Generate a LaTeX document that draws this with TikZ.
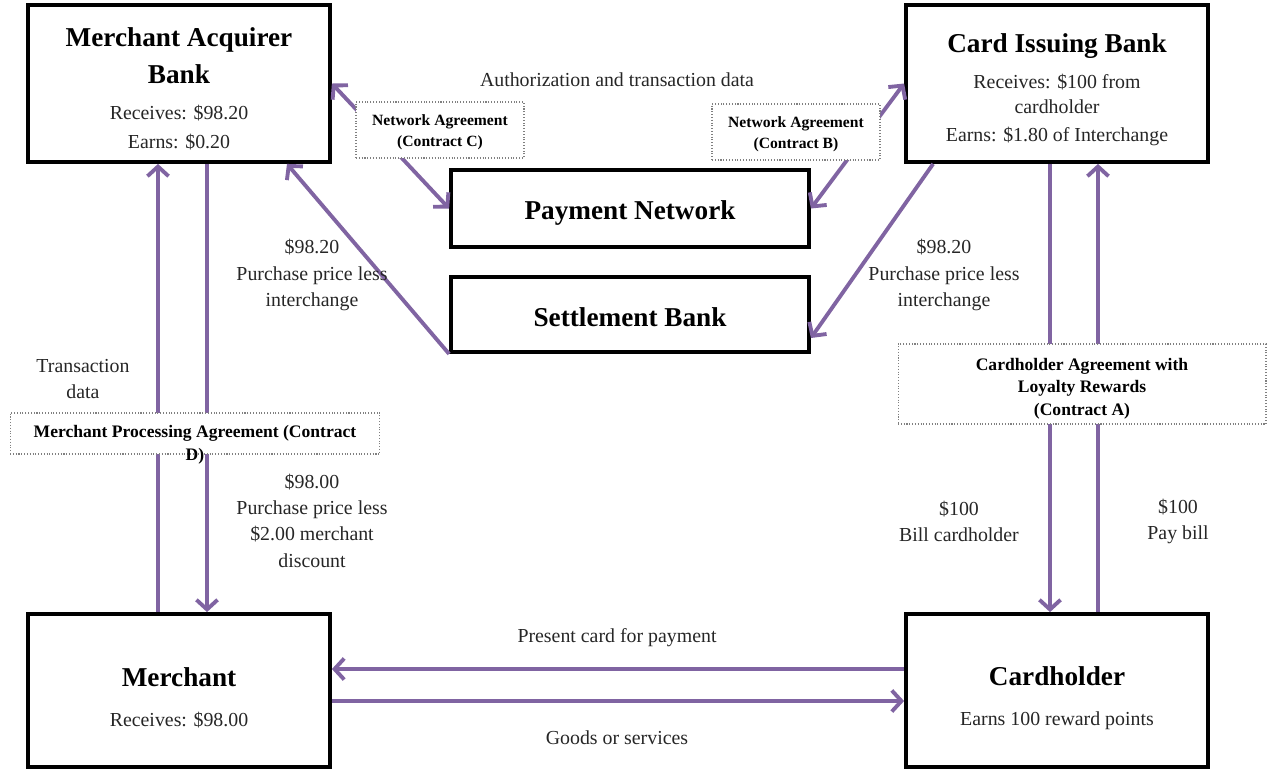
\documentclass[tikz,border=0pt]{standalone}
\usepackage{fontspec}
\setmainfont{Liberation Serif}
\usepackage{tikz}
\usetikzlibrary{arrows.meta,positioning}
\definecolor{flowpurple}{RGB}{128,100,162}

\newcommand{\boxtitle}{\fontsize{15.5}{21}\selectfont\bfseries}
\newcommand{\boxbody}{\fontsize{11.3}{15}\selectfont}
\newcommand{\contractbig}{\fontsize{10}{12.8}\selectfont\bfseries}
\newcommand{\contractsmall}{\fontsize{8.9}{11.9}\selectfont\bfseries}
\newcommand{\padtop}[1]{\rule{0pt}{#1}}

\tikzset{
    mainbox/.style={
        draw,
        line width=2.2pt,
        fill=white,
        align=center,
        font=\boxbody,
        text=black!85
    },
    contract/.style={
        draw=gray,
        densely dotted,
        line width=0.6pt,
        fill=white,
        align=center,
        inner sep=1pt
    },
    flow/.style={
        draw=flowpurple,
        line width=2.2pt,
        -{Straight Barb[length=5.5pt,width=12pt]}
    },
    flowboth/.style={
        flow,
        {Straight Barb[length=5.5pt,width=12pt]}-{Straight Barb[length=5.5pt,width=12pt]}
    },
    note/.style={
        align=center,
        font=\boxbody,
        text=black!85
    }
}

\begin{document}
\begin{tikzpicture}[x=0.02cm, y=-0.02cm]

\useasboundingbox (0,0) rectangle (1268,769);

% Bancs

\node[
    mainbox,
    minimum width=6.04cm,
    minimum height=3.14cm
] (acquirer) at (179,83.5)
    {{\boxtitle\color{black}\padtop{17pt}Merchant Acquirer}\\[6pt]
     {\boxtitle\color{black} Bank}\\[5.4pt]
     Receives: \$98.20\\[1.4pt]
     Earns: \$0.20};

\node[
    mainbox,
    minimum width=6.04cm,
    minimum height=3.14cm
] (issuer) at (1057,83.5)
    {{\boxtitle\color{black}\padtop{18pt}Card Issuing Bank}\\[5.4pt]
     Receives: \$100 from\\[-0.8pt]
     cardholder\\[1.4pt]
     Earns: \$1.80 of Interchange};

\node[
    mainbox,
    minimum width=7.16cm,
    minimum height=1.54cm
] (network) at (630,208.5)
    {{\boxtitle\color{black}\padtop{16pt}Payment Network}};

\node[
    mainbox,
    minimum width=7.16cm,
    minimum height=1.5cm
] (settlement) at (630,314.5)
    {{\boxtitle\color{black}\padtop{14pt}Settlement Bank}};

\node[
    mainbox,
    minimum width=6.04cm,
    minimum height=3.06cm
] (merchant) at (179,690.5)
    {{\boxtitle\color{black}\padtop{19pt}Merchant}\\[7.7pt]
     Receives: \$98.00};

\node[
    mainbox,
    minimum width=6.04cm,
    minimum height=3.06cm
] (cardholder) at (1057,690.5)
    {{\boxtitle\color{black}\padtop{19pt}Cardholder}\\[7.7pt]
     Earns 100 reward points};


% Fluxos

\draw[flow] ([xshift=-0.42cm]merchant.north) -- ([xshift=-0.42cm]acquirer.south);
\draw[flow] ([xshift=0.56cm]acquirer.south) -- ([xshift=0.56cm]merchant.north);

\draw[flowboth] (acquirer.east) -- (network.west);
\draw[flowboth] (network.east) -- (issuer.west);

\draw[flow] (settlement.south west) -- ([xshift=2.16cm]acquirer.south);
\draw[flow] ([xshift=0.58cm]issuer.south west) -- ([yshift=-0.47cm]settlement.east);

\draw[flow] ([xshift=-0.14cm]issuer.south) -- ([xshift=-0.14cm]cardholder.north);
\draw[flow] ([xshift=0.82cm]cardholder.north) -- ([xshift=0.82cm]issuer.south);

\draw[flow] ([yshift=0.43cm]cardholder.west) -- ([yshift=0.43cm]merchant.east);
\draw[flow] ([yshift=-0.21cm]merchant.east) -- ([yshift=-0.21cm]cardholder.west);


% Contractes

\node[
    contract,
    minimum width=3.36cm,
    minimum height=1.12cm,
    font=\contractsmall
] (contractC) at (440,130) {\padtop{9pt}Network Agreement\\(Contract C)};

\node[
    contract,
    minimum width=3.36cm,
    minimum height=1.12cm,
    font=\contractsmall
] (contractB) at (796,132) {\padtop{9pt}Network Agreement\\(Contract B)};

\node[
    contract,
    minimum width=7.36cm,
    minimum height=1.6cm,
    font=\contractbig
] (contractA) at (1082,384)
    {\padtop{12pt}Cardholder Agreement with\\Loyalty Rewards\\(Contract A)};

\node[
    contract,
    minimum width=7.4cm,
    minimum height=0.82cm,
    font=\contractbig
] (contractD) at (195,433.5) {Merchant Processing Agreement (Contract};

\node[font=\contractbig] (contractDtail) at ([yshift=-0.04cm]contractD.south) {D)};


% Etiquetes

\node[note] (authlabel) at (617,80) {Authorization and transaction data};
\node[note] (txdata) at (83,379) {Transaction\\data};
\node[note] (acqsettle) at (312,275) {\$98.20\\Purchase price less\\interchange};
\node[note] (issuersettle) at (944,275) {\$98.20\\Purchase price less\\interchange};
\node[note] (merchpay) at (312,520.5) {\$98.00\\Purchase price less\\\$2.00 merchant\\discount};
\node[note] (billlabel) at (959,521.5) {\$100\\Bill cardholder};
\node[note] (paylabel) at (1178,521.5) {\$100\\Pay bill};
\node[note] (presentlabel) at (617,638) {Present card for payment};
\node[note] (goodslabel) at (617,738) {Goods or services};

\end{tikzpicture}
\end{document}
